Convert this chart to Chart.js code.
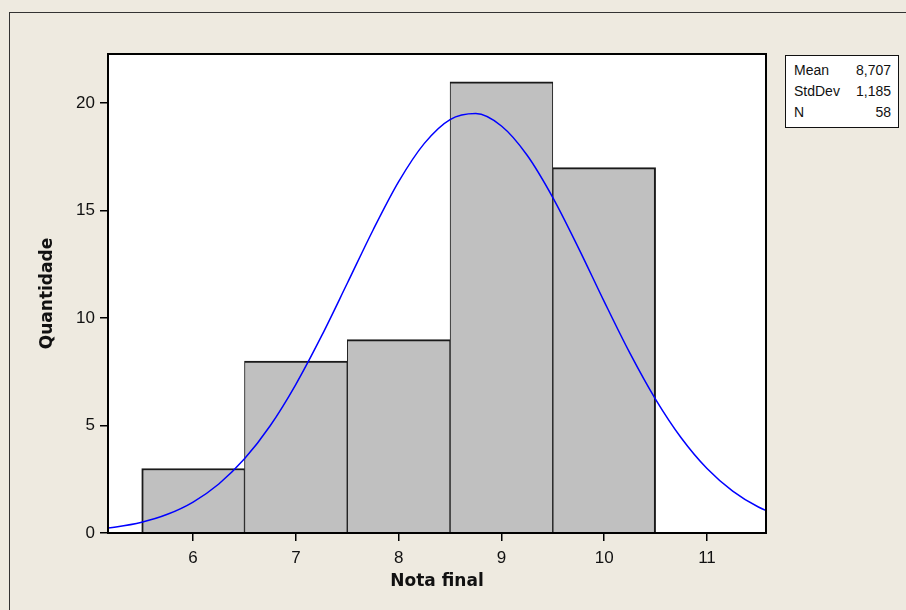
<!DOCTYPE html>
<html>
<head>
<meta charset="utf-8">
<script src="https://cdn.jsdelivr.net/npm/chart.js@4/dist/chart.umd.min.js"></script>
<style>
  html, body { margin:0; padding:0; width:906px; height:610px; overflow:hidden; background:#EEEAE0; }
  #frame { position:absolute; left:9px; top:12px; width:1000px; height:1000px; border-left:1.5px solid #333; border-top:1.5px solid #333; }
  #c { position:absolute; left:0; top:0; }
  #stats { position:absolute; left:785px; top:55px; width:114px; height:73px; background:#fff; border:1.5px solid #111;
           font-family:"Liberation Sans", Arial, sans-serif; font-size:14px; color:#111; padding-top:4px; box-sizing:border-box; }
  #stats .row { position:relative; height:21px; line-height:21px; }
  #stats .k { position:absolute; left:8px; }
  #stats .v { position:absolute; right:7px; }
</style>
</head>
<body>
<div id="frame"></div>
<canvas id="c" width="906" height="610"></canvas>
<div id="stats"></div>
<script>
// ---- data ----
const binCenters = [6, 7, 8, 9, 10];
const binCounts  = [3, 8, 9, 21, 17];
const curveX = [5.0, 5.25, 5.5, 5.75, 6.0, 6.25, 6.5, 6.75, 7.0, 7.25, 7.5, 7.75, 8.0, 8.25, 8.5, 8.75, 9.0, 9.25, 9.5, 9.75, 10.0, 10.25, 10.5, 10.75, 11.0, 11.25, 11.5, 11.75];
const curveY = [0.15, 0.28, 0.50, 0.87, 1.44, 2.28, 3.45, 4.99, 6.92, 9.17, 11.62, 14.09, 16.35, 18.13, 19.24, 19.52, 18.94, 17.58, 15.61, 13.26, 10.77, 8.37, 6.22, 4.42, 3.00, 1.95, 1.21, 0.72];
const xTicks = [6, 7, 8, 9, 10, 11];
const yTicks = [0, 5, 10, 15, 20];
const statLabels = ["Mean", "StdDev", "N"];
const statValues = ["8,707", "1,185", "58"];
const xTitle = "Nota final";
const yTitle = "Quantidade";

// stats box (HTML text)
const sb = document.getElementById('stats');
statLabels.forEach((l, i) => {
  const r = document.createElement('div'); r.className = 'row';
  r.innerHTML = '<span class="k"></span><span class="v"></span>';
  r.querySelector('.k').textContent = l;
  r.querySelector('.v').textContent = statValues[i];
  sb.appendChild(r);
});

const plotBg = {
  id: 'plotBg',
  beforeDraw(chart) {
    const {ctx, chartArea: a} = chart;
    ctx.save(); ctx.fillStyle = '#fff';
    ctx.fillRect(a.left, a.top, a.right - a.left, a.bottom - a.top);
    ctx.restore();
  },
  afterDraw(chart) {
    const {ctx, chartArea: a} = chart;
    ctx.save(); ctx.strokeStyle = '#000'; ctx.lineWidth = 2;
    ctx.strokeRect(a.left, a.top, a.right - a.left, a.bottom - a.top);
    ctx.restore();
  }
};

const tickFont = { family: '"Liberation Sans", Arial, sans-serif', size: 17 };
const titleFont = { family: '"DejaVu Sans", sans-serif', size: 17, weight: 'bold' };

new Chart(document.getElementById('c'), {
  data: {
    datasets: [
      {
        type: 'line',
        order: 1,
        data: curveX.map((x, i) => ({x, y: curveY[i]})),
        borderColor: '#0000FF',
        borderWidth: 1.5,
        pointRadius: 0,
        tension: 0.4,
        cubicInterpolationMode: 'monotone',
        fill: false
      },
      {
        type: 'bar',
        order: 2,
        data: binCenters.map((x, i) => ({x, y: binCounts[i]})),
        backgroundColor: '#C0C0C0',
        borderColor: '#1a1a1a',
        borderSkipped: false,
        borderWidth: (c) => ({
          top: 2, bottom: 0,
          left: c.dataIndex === 0 ? 2 : 1,
          right: c.dataIndex === binCenters.length - 1 ? 2 : 1
        }),
        barPercentage: 1,
        categoryPercentage: 1
      }
    ]
  },
  options: {
    responsive: false,
    animation: false,
    layout: { padding: { left: 0, top: 54, right: 140, bottom: 0 } },
    plugins: { legend: { display: false }, tooltip: { enabled: false } },
    scales: {
      x: {
        type: 'linear',
        offset: false,
        min: 5.172, max: 11.574,
        afterBuildTicks: (s) => { s.ticks = xTicks.map(v => ({value: v})); },
        afterFit: (s) => { s.height = 77; },
        grid: { offset: false, drawOnChartArea: false, drawTicks: true, tickLength: 8, color: '#000', lineWidth: 1.5 },
        border: { display: true, color: '#000', width: 2 },
        ticks: { font: tickFont, color: '#111', padding: 7, maxRotation: 0, autoSkip: false },
        title: { display: true, text: xTitle, font: titleFont, color: '#111', padding: { top: 0, bottom: 18 } }
      },
      y: {
        type: 'linear',
        min: 0, max: 22.29,
        afterBuildTicks: (s) => { s.ticks = yTicks.map(v => ({value: v})); },
        afterFit: (s) => { s.width = 108; },
        grid: { drawOnChartArea: false, drawTicks: true, tickLength: 8, color: '#000', lineWidth: 1.5 },
        border: { display: true, color: '#000', width: 2 },
        ticks: { font: tickFont, color: '#111', padding: 5 },
        title: { display: true, text: yTitle, font: titleFont, color: '#111', padding: { top: 37, bottom: 0 } }
      }
    }
  },
  plugins: [plotBg]
});
</script>
</body>
</html>
